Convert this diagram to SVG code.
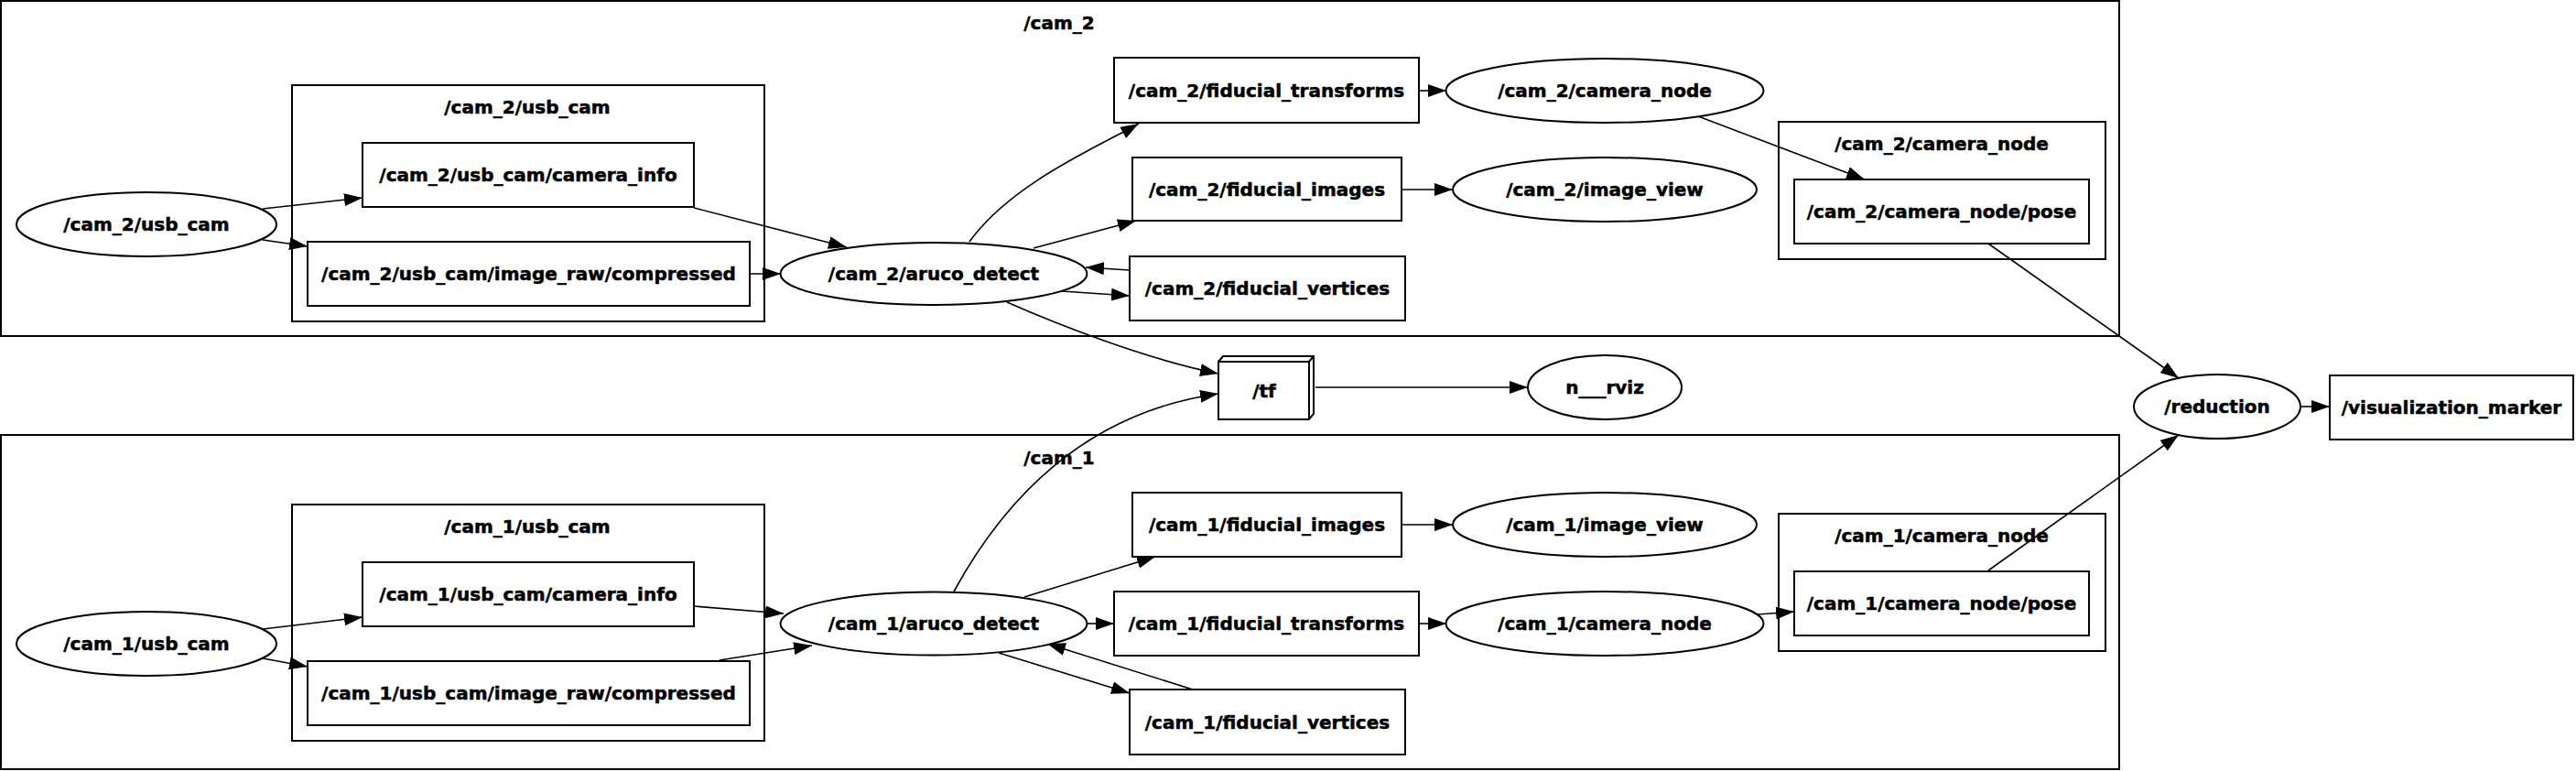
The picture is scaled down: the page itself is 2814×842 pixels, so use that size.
<svg xmlns="http://www.w3.org/2000/svg" width="2814" height="842" viewBox="0 0 2814 842">
<style>
.cl{fill:none;stroke:#000;stroke-width:2}
.nd{fill:#fff;stroke:#000;stroke-width:2}
.t{font-family:"DejaVu Sans","Liberation Sans",sans-serif;font-weight:bold;font-size:20px;text-anchor:middle;fill:#000;stroke:#000;stroke-width:0.5}
.e{fill:none;stroke:#000;stroke-width:1.6;marker-end:url(#ah)}
</style>
<defs>
<marker id="ah" markerUnits="userSpaceOnUse" markerWidth="20" markerHeight="14" viewBox="0 0 20 14" refX="20" refY="7" orient="auto">
<path d="M0,0 L20,7 L0,14 z" fill="#000"/>
</marker>
</defs>
<rect width="2814" height="842" fill="#fff"/>

<g id="cluster_cam_2">
<rect class="cl" x="1" y="1" width="2314" height="366"/>
<text class="t" x="1157" y="32">/cam_2</text>
</g>
<g id="cluster_cam_2_usb_cam">
<rect class="cl" x="319" y="93" width="516" height="258"/>
<text class="t" x="576" y="124">/cam_2/usb_cam</text>
</g>
<g id="cluster_cam_2_camera_node">
<rect class="cl" x="1943" y="133" width="357" height="150"/>
<text class="t" x="2121" y="164">/cam_2/camera_node</text>
</g>
<g id="cluster_cam_1">
<rect class="cl" x="1" y="475" width="2314" height="365"/>
<text class="t" x="1157" y="507">/cam_1</text>
</g>
<g id="cluster_cam_1_usb_cam">
<rect class="cl" x="319" y="551" width="516" height="258"/>
<text class="t" x="576" y="582">/cam_1/usb_cam</text>
</g>
<g id="cluster_cam_1_camera_node">
<rect class="cl" x="1943" y="561" width="357" height="150"/>
<text class="t" x="2121" y="592">/cam_1/camera_node</text>
</g>

<g id="edges">
<path class="e" d="M287,228 L396,216"/>
<path class="e" d="M287,262 L336,269"/>
<path class="e" d="M758,227 L925,270"/>
<path class="e" d="M819,299 L853,299"/>
<path class="e" d="M1059,264 C1105,200 1200,160 1244,135"/>
<path class="e" d="M1129,271 L1241,241"/>
<path class="e" d="M1234,295 L1186,292"/>
<path class="e" d="M1160,318 L1234,323"/>
<path class="e" d="M1100,330 C1150,352 1250,392 1331,408"/>
<path class="e" d="M1550,99 L1580,99"/>
<path class="e" d="M1531,207 L1587,207"/>
<path class="e" d="M1855,127 L2037,196"/>
<path class="e" d="M2172,266 L2380,413"/>
<path class="e" d="M1437,423 L1669,423"/>
<path class="e" d="M2513,444 L2545,444"/>
<path class="e" d="M1042,646 C1100,540 1190,450 1331,430"/>
<path class="e" d="M287,687 L396,674"/>
<path class="e" d="M287,719 L336,728"/>
<path class="e" d="M758,662 L856,670"/>
<path class="e" d="M786,721 L887,705"/>
<path class="e" d="M1119,652 L1262,608"/>
<path class="e" d="M1188,681 L1217,681"/>
<path class="e" d="M1091,713 L1234,757"/>
<path class="e" d="M1303,753 L1144,703"/>
<path class="e" d="M1531,573 L1587,573"/>
<path class="e" d="M1550,681 L1580,681"/>
<path class="e" d="M1920,671 L1960,668"/>
<path class="e" d="M2172,623 L2380,475"/>
</g>

<g id="n_cam_2_usb_cam">
<ellipse class="nd" cx="160" cy="245" rx="142" ry="35"/>
<text class="t" x="160" y="252">/cam_2/usb_cam</text>
</g>
<g id="n_cam_2_usb_cam_camera_info">
<rect class="nd" x="396" y="156" width="362" height="70"/>
<text class="t" x="577" y="198">/cam_2/usb_cam/camera_info</text>
</g>
<g id="n_cam_2_usb_cam_image_raw_compressed">
<rect class="nd" x="336" y="264" width="483" height="70"/>
<text class="t" x="577.5" y="306">/cam_2/usb_cam/image_raw/compressed</text>
</g>
<g id="n_cam_2_aruco_detect">
<ellipse class="nd" cx="1020" cy="299" rx="167.5" ry="34"/>
<text class="t" x="1020" y="306">/cam_2/aruco_detect</text>
</g>
<g id="n_cam_2_fiducial_transforms">
<rect class="nd" x="1217" y="63" width="333" height="71"/>
<text class="t" x="1383.5" y="106">/cam_2/fiducial_transforms</text>
</g>
<g id="n_cam_2_fiducial_images">
<rect class="nd" x="1237" y="172" width="294" height="69"/>
<text class="t" x="1384" y="214">/cam_2/fiducial_images</text>
</g>
<g id="n_cam_2_fiducial_vertices">
<rect class="nd" x="1234" y="280" width="301" height="70"/>
<text class="t" x="1384.5" y="322">/cam_2/fiducial_vertices</text>
</g>
<g id="n_cam_2_camera_node">
<ellipse class="nd" cx="1753" cy="99" rx="173.5" ry="35"/>
<text class="t" x="1753" y="106">/cam_2/camera_node</text>
</g>
<g id="n_cam_2_image_view">
<ellipse class="nd" cx="1753" cy="207" rx="166" ry="35"/>
<text class="t" x="1753" y="214">/cam_2/image_view</text>
</g>
<g id="n_cam_2_camera_node_pose">
<rect class="nd" x="1960" y="196" width="322" height="70"/>
<text class="t" x="2121" y="238">/cam_2/camera_node/pose</text>
</g>

<g id="n_tf">
<path class="nd" d="M1331,395 L1336,389 L1435,389 L1435,452 L1430,458 L1331,458 Z"/>
<path fill="none" stroke="#000" stroke-width="2" d="M1331,395 L1430,395 L1430,458 M1430,395 L1435,389"/>
<text class="t" x="1381" y="434">/tf</text>
</g>
<g id="n_rviz">
<ellipse class="nd" cx="1753" cy="423" rx="84" ry="35"/>
<text class="t" x="1753" y="430">n___rviz</text>
</g>
<g id="n_reduction">
<ellipse class="nd" cx="2422" cy="444" rx="91" ry="35"/>
<text class="t" x="2422" y="451">/reduction</text>
</g>
<g id="n_visualization_marker">
<rect class="nd" x="2545" y="410" width="266" height="70"/>
<text class="t" x="2678" y="452">/visualization_marker</text>
</g>

<g id="n_cam_1_usb_cam">
<ellipse class="nd" cx="160" cy="703" rx="142" ry="35"/>
<text class="t" x="160" y="710">/cam_1/usb_cam</text>
</g>
<g id="n_cam_1_usb_cam_camera_info">
<rect class="nd" x="396" y="614" width="362" height="70"/>
<text class="t" x="577" y="656">/cam_1/usb_cam/camera_info</text>
</g>
<g id="n_cam_1_usb_cam_image_raw_compressed">
<rect class="nd" x="336" y="722" width="483" height="70"/>
<text class="t" x="577.5" y="764">/cam_1/usb_cam/image_raw/compressed</text>
</g>
<g id="n_cam_1_aruco_detect">
<ellipse class="nd" cx="1020" cy="681" rx="167.5" ry="34.5"/>
<text class="t" x="1020" y="688">/cam_1/aruco_detect</text>
</g>
<g id="n_cam_1_fiducial_images">
<rect class="nd" x="1237" y="538" width="294" height="70"/>
<text class="t" x="1384" y="580">/cam_1/fiducial_images</text>
</g>
<g id="n_cam_1_fiducial_transforms">
<rect class="nd" x="1217" y="646" width="333" height="70"/>
<text class="t" x="1383.5" y="688">/cam_1/fiducial_transforms</text>
</g>
<g id="n_cam_1_fiducial_vertices">
<rect class="nd" x="1234" y="753" width="301" height="71"/>
<text class="t" x="1384.5" y="796">/cam_1/fiducial_vertices</text>
</g>
<g id="n_cam_1_image_view">
<ellipse class="nd" cx="1753" cy="573" rx="166" ry="35"/>
<text class="t" x="1753" y="580">/cam_1/image_view</text>
</g>
<g id="n_cam_1_camera_node">
<ellipse class="nd" cx="1753" cy="681" rx="173.5" ry="35"/>
<text class="t" x="1753" y="688">/cam_1/camera_node</text>
</g>
<g id="n_cam_1_camera_node_pose">
<rect class="nd" x="1960" y="624" width="322" height="70"/>
<text class="t" x="2121" y="666">/cam_1/camera_node/pose</text>
</g>
</svg>
